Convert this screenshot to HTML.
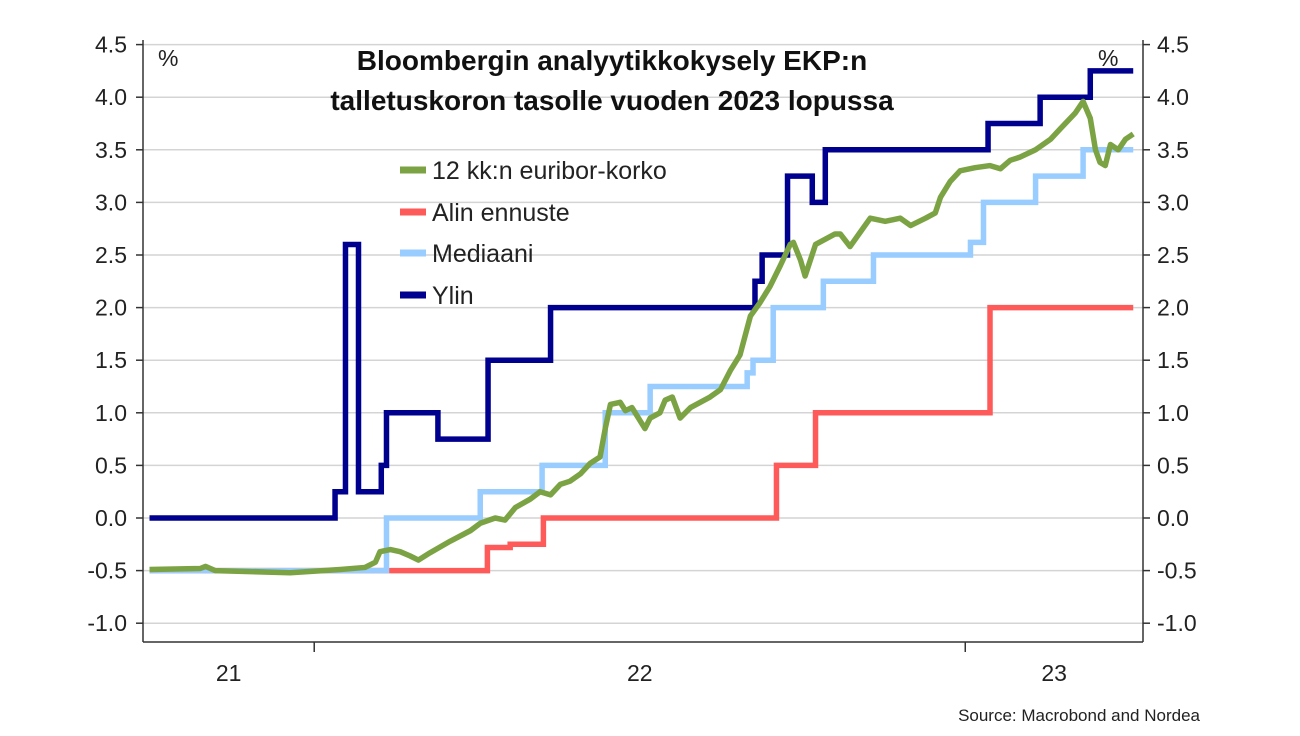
<!DOCTYPE html>
<html><head><meta charset="utf-8"><style>
body{margin:0;background:#fff;}
svg text{font-family:"Liberation Sans",sans-serif;}
</style></head><body>
<svg id="chart" width="1300" height="731" xmlns="http://www.w3.org/2000/svg">
<g id="grid"></g>
<g id="axes"></g>
<g id="series"></g>
<text x="612" y="70" text-anchor="middle" font-size="28" font-weight="bold" fill="#111">Bloombergin analyytikkokysely EKP:n</text>
<text x="612" y="110" text-anchor="middle" font-size="28" font-weight="bold" fill="#111">talletuskoron tasolle vuoden 2023 lopussa</text>
<text x="158" y="66" font-size="23" fill="#222">%</text>
<text x="1098" y="66" font-size="23" fill="#222">%</text>
<g font-size="25" fill="#222">
<line x1="400" y1="170" x2="426" y2="170" stroke="#7ba344" stroke-width="7"/><text x="432" y="179">12 kk:n euribor-korko</text>
<line x1="400" y1="212" x2="426" y2="212" stroke="#ff5a5a" stroke-width="7"/><text x="432" y="221">Alin ennuste</text>
<line x1="400" y1="253" x2="426" y2="253" stroke="#99ccff" stroke-width="7"/><text x="432" y="262">Mediaani</text>
<line x1="400" y1="295" x2="426" y2="295" stroke="#00008f" stroke-width="7"/><text x="432" y="304">Ylin</text>
</g>
<text x="1200" y="721" text-anchor="end" font-size="17" fill="#222">Source: Macrobond and Nordea</text>
</svg>
<script>
const yTicks=[-1.0,-0.5,0.0,0.5,1.0,1.5,2.0,2.5,3.0,3.5,4.0,4.5];
const yearLabels=["21","22","23"];
const yearStarts=[2021,2022,2023];
const ylinT=[2021.747,2022.032,2022.048,2022.068,2022.103,2022.111,2022.190,2022.267,2022.363,2022.677,2022.688,2022.727,2022.765,2022.785,2023.035,2023.115,2023.192];
const ylinV=[0,0.25,2.6,0.25,0.5,1.0,0.75,1.5,2.0,2.25,2.5,3.25,3.0,3.5,3.75,4.0,4.25];
const medT=[2021.747,2022.111,2022.255,2022.350,2022.447,2022.516,2022.665,2022.674,2022.705,2022.782,2022.859,2023.008,2023.028,2023.108,2023.181];
const medV=[-0.5,0.0,0.25,0.5,1.0,1.25,1.38,1.5,2.0,2.25,2.5,2.62,3.0,3.25,3.5];
const alinT=[2021.747,2022.266,2022.301,2022.352,2022.710,2022.770,2023.038];
const alinV=[-0.5,-0.28,-0.25,0.0,0.5,1.0,2.0];
const endT=2023.258;
const eurT=[2021.747,2021.825,2021.833,2021.848,2021.963,2022.040,2022.078,2022.094,2022.101,2022.117,2022.132,2022.147,2022.160,2022.178,2022.209,2022.240,2022.255,2022.278,2022.293,2022.309,2022.332,2022.347,2022.363,2022.378,2022.393,2022.409,2022.424,2022.439,2022.447,2022.455,2022.470,2022.478,2022.488,2022.498,2022.508,2022.516,2022.531,2022.539,2022.550,2022.562,2022.578,2022.593,2022.608,2022.624,2022.639,2022.654,2022.670,2022.685,2022.700,2022.716,2022.731,2022.736,2022.747,2022.754,2022.770,2022.785,2022.800,2022.808,2022.823,2022.839,2022.854,2022.877,2022.900,2022.916,2022.939,2022.954,2022.962,2022.977,2022.992,2023.015,2023.038,2023.054,2023.069,2023.084,2023.108,2023.131,2023.146,2023.169,2023.181,2023.192,2023.200,2023.207,2023.215,2023.223,2023.235,2023.246,2023.258];
const eurV=[-0.49,-0.48,-0.46,-0.5,-0.52,-0.49,-0.47,-0.42,-0.32,-0.3,-0.32,-0.36,-0.4,-0.33,-0.22,-0.12,-0.05,0.0,-0.02,0.1,0.18,0.25,0.22,0.32,0.35,0.42,0.52,0.58,0.85,1.08,1.1,1.02,1.05,0.95,0.85,0.95,1.0,1.12,1.15,0.95,1.05,1.1,1.15,1.22,1.4,1.55,1.92,2.05,2.2,2.4,2.6,2.62,2.45,2.3,2.6,2.65,2.7,2.7,2.58,2.72,2.85,2.82,2.85,2.78,2.85,2.9,3.05,3.2,3.3,3.33,3.35,3.32,3.4,3.43,3.5,3.6,3.7,3.85,3.96,3.8,3.5,3.38,3.35,3.55,3.5,3.6,3.65];
const NS="http://www.w3.org/2000/svg";
const X0=143,X1=1143,T0=2021.737,T1=2023.273;
const xS=t=>X0+(t-T0)/(T1-T0)*(X1-X0);
const yS=v=>518-v*105.2;
function mk(tag,attrs,parent){const e=document.createElementNS(NS,tag);for(const k in attrs)e.setAttribute(k,attrs[k]);parent.appendChild(e);return e;}
const grid=document.getElementById('grid'),axes=document.getElementById('axes'),ser=document.getElementById('series');
yTicks.forEach(v=>{
  const g=mk('line',{x1:X0,x2:X1,y1:yS(v),y2:yS(v),stroke:'#d4d4d4','stroke-width':1.5},grid);
  
  
  mk('line',{x1:X0-7,x2:X0,y1:yS(v),y2:yS(v),stroke:'#333','stroke-width':1.5},axes);
  mk('line',{x1:X1,x2:X1+7,y1:yS(v),y2:yS(v),stroke:'#333','stroke-width':1.5},axes);
  const l=mk('text',{x:127,y:yS(v)+8,'text-anchor':'end','font-size':23,fill:'#222'},axes);l.textContent=v.toFixed(1);
  
  
  const r=mk('text',{x:1157,y:yS(v)+8,'font-size':23,fill:'#222'},axes);r.textContent=v.toFixed(1);
  
  
});
mk('line',{x1:X0,x2:X0,y1:40,y2:642,stroke:'#333','stroke-width':1.5},axes);
mk('line',{x1:X1,x2:X1,y1:40,y2:642,stroke:'#333','stroke-width':1.5},axes);
mk('line',{x1:X0,x2:X1,y1:642,y2:642,stroke:'#333','stroke-width':1.5},axes);
yearStarts.forEach((y,i)=>{
  if(xS(y)>X0&&xS(y)<X1) mk('line',{x1:xS(y),x2:xS(y),y1:642,y2:652,stroke:'#333','stroke-width':1.5},axes);
  const a=Math.max(xS(y),X0),b=Math.min(xS(y+1),X1);
  const t=mk('text',{x:(a+b)/2,y:681,'text-anchor':'middle','font-size':23,fill:'#222'},axes);t.textContent=yearLabels[i];
  
  
});
function step(T,V,end){let d='M'+xS(T[0])+','+yS(V[0]);for(let i=1;i<T.length;i++){d+='H'+xS(T[i])+'V'+yS(V[i]);}d+='H'+xS(end);return d;}
const pa=mk('path',{d:step(alinT,alinV,endT),fill:'none',stroke:'#ff5a5a','stroke-width':5.5},ser);


const pm=mk('path',{d:step(medT,medV,endT),fill:'none',stroke:'#99ccff','stroke-width':5.5},ser);


const py=mk('path',{d:step(ylinT,ylinV,endT),fill:'none',stroke:'#00008f','stroke-width':5.5},ser);


const pe=mk('path',{d:eurT.map((t,i)=>(i?'L':'M')+xS(t)+','+yS(eurV[i])).join(''),fill:'none',stroke:'#7ba344','stroke-width':5.5,'stroke-linejoin':'round'},ser);


</script>
</body></html>
